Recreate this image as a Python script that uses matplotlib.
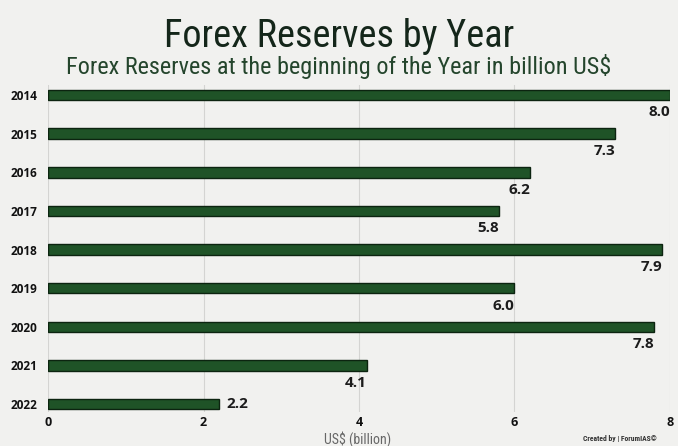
import matplotlib.pyplot as plt
import numpy as np

years = ["2014", "2015", "2016", "2017", "2018", "2019", "2020", "2021", "2022"]
reserves = [8.0, 7.3, 6.2, 5.8, 7.9, 6.0, 7.8, 4.1, 2.2]
x_ticks = [0, 2, 4, 6, 8]

bg = "#f1f1ef"
bar_color = "#1f5327"
edge_color = "#0c2410"
cond = "Roboto Condensed"
body = "Open Sans"

fig = plt.figure(figsize=(6.78, 4.46), dpi=100, facecolor=bg)
ax = fig.add_axes([0.071, 0.076, 0.917, 0.7325], facecolor=bg)

pos = np.arange(len(years))
ax.barh(pos, reserves, height=0.27, color=bar_color, edgecolor=edge_color, linewidth=1.0, zorder=3)

for i, v in enumerate(reserves):
    if i == len(reserves) - 1:
        ax.text(v + 0.1, i, f"{v:.1f}", ha="left", va="center", family=body,
                fontsize=11, fontweight="bold", color="#1c1c1c")
    else:
        ax.text(v, i + 0.45, f"{v:.1f}", ha="right", va="center", family=body,
                fontsize=11, fontweight="bold", color="#1c1c1c")

ax.set_xlim(0, 8)
ax.set_ylim(8.21, -0.25)
ax.set_yticks(pos)
ax.set_yticklabels(years, fontsize=8.5, fontweight="bold", color="#111111", family=body)
ax.set_xticks(x_ticks)
ax.set_xticklabels([str(t) for t in x_ticks], fontsize=9, fontweight="bold", color="#111111", family=body)
ax.tick_params(length=0, pad=3)
ax.tick_params(axis="y", pad=8)
ax.grid(axis="x", color="#d4d4d2", linewidth=0.8, zorder=0)
for s in ax.spines.values():
    s.set_visible(False)

fig.text(0.5, 0.918, "Forex Reserves by Year", ha="center", va="center",
         fontsize=27.5, family=cond, color="#14261a")
fig.text(0.5, 0.850, "Forex Reserves at the beginning of the Year in billion US$", ha="center", va="center",
         fontsize=17.5, family=cond, color="#24452c")
fig.text(0.528, 0.016, "US$ (billion)", ha="center", va="center",
         fontsize=10, family=cond, color="#666666")
fig.text(0.915, 0.016, "Created by | ForumIAS\u00a9", ha="center", va="center",
         fontsize=5.5, fontweight="bold", family=cond, color="#333333")

fig.savefig("out.png", dpi=100, facecolor=bg)
